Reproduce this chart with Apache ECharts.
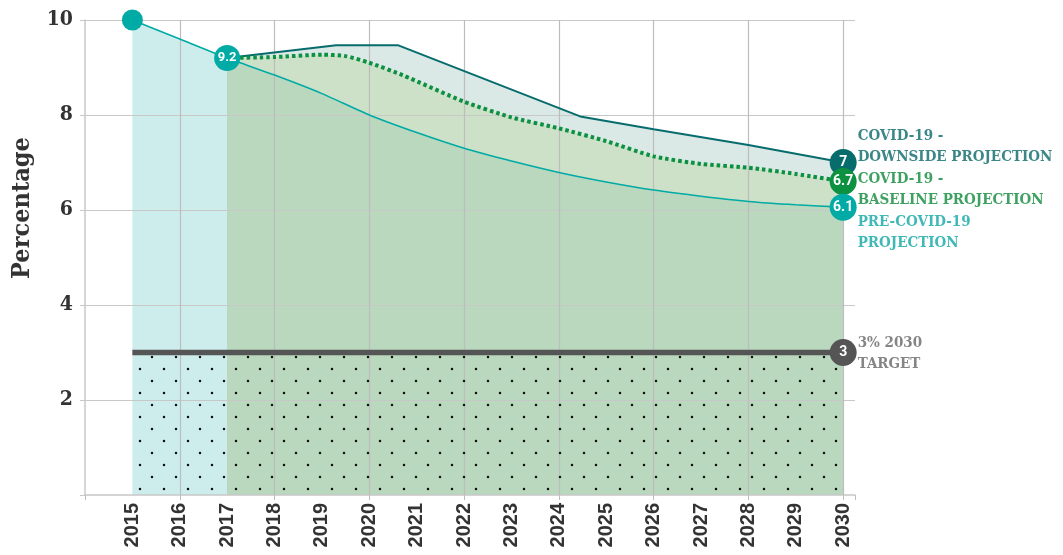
<!DOCTYPE html>
<html>
<head>
<meta charset="utf-8">
<script src="https://cdn.jsdelivr.net/npm/echarts@6/dist/echarts.min.js"></script>
<style>html,body{margin:0;padding:0;background:#fff}#c{width:1063px;height:555px}</style>
</head>
<body>
<div id="c"></div>
<script>
// ---- data ----
const years = [2015,2016,2017,2018,2019,2020,2021,2022,2023,2024,2025,2026,2027,2028,2029,2030];
const yTicks = [2,4,6,8,10];
const preCovid = [10,9.6,9.2,8.84,8.45,8.0,7.63,7.3,7.03,6.79,6.59,6.42,6.29,6.18,6.11,6.06];
const downsideX = [2017,2019.3,2020.6,2024.45,2026,2028,2030];
const downsideY = [9.2,9.47,9.47,7.97,7.7,7.37,7.0];
const baselineX = [2017,2018,2019,2019.5,2020,2020.7,2022,2023,2024,2025,2026,2027,2028,2029,2030];
const baselineY = [9.2,9.22,9.27,9.24,9.1,8.84,8.28,7.95,7.72,7.45,7.13,6.97,6.89,6.76,6.6];
const targetX = [2015,2030];
const targetValue = 3;
const startMarkers = [[2015,10,''],[2017,9.2,'9.2']];
const endLabels = ['7','6.7','6.1','3'];
const seriesNames = ['COVID-19 -\nDOWNSIDE PROJECTION','COVID-19 -\nBASELINE PROJECTION','PRE-COVID-19\nPROJECTION','3% 2030\nTARGET'];

// ---- styles ----
const C = {
  down:'#066c6c', base:'#0b9140', pre:'#00aaa5', target:'#555555',
  downFill:'#dae8e6', baseFill:'#cde0c8', preFill:'#b9d8be', preFillEarly:'#cdeded',
  downText:'#0a6868', baseText:'#0f8a3a', preText:'#10a8a4', targetText:'#666666'
};
const SLAB = '"DejaVu Serif Condensed","DejaVu Serif",serif';

function dotPattern(){
  const cv = document.createElement('canvas');
  cv.width = 24; cv.height = 24;
  const g = cv.getContext('2d');
  g.fillStyle = '#111';
  [[20,9],[8,21]].forEach(p=>{ g.beginPath(); g.arc(p[0],p[1],1.25,0,Math.PI*2); g.fill(); });
  return cv;
}

const zip = (xs, ys) => xs.map((x,i)=>[x, ys[i]]);
const preData = zip(years, preCovid);
const downData = zip(downsideX, downsideY);
const baseData = zip(baselineX, baselineY);
const targetData = targetX.map(x=>[x, targetValue]);
const last = a => a[a.length-1];
const stop = (years[2]-years[0])/(last(years)-years[0]);

const endPoints = [last(downData), last(baseData), last(preData), last(targetData)];
const endColors = [C.down, C.base, C.pre, C.target];
const nameColors = [C.downText, C.baseText, C.preText, C.targetText];
const nameOffsets = [-16, 8, 25, 1];

const chart = echarts.init(document.getElementById('c'), null, {renderer:'canvas'});
const option = {
  animation:false,
  grid:{left:85, right:208, top:20, bottom:60, containLabel:false},
  xAxis:[
    {type:'value', min:2014, max:2030.25, interval:1, z:1,
     axisLine:{show:true, lineStyle:{color:'#c8c8c8', width:1.5}},
     axisTick:{show:false}, splitLine:{show:false},
     axisLabel:{rotate:90, margin:8, color:'#333', fontFamily:'"Liberation Sans",Arial,sans-serif', fontWeight:'bold', fontSize:20,
       formatter:v=> years.includes(v) ? String(v) : ''}},
    {type:'value', min:2014, max:2030.25, interval:2, z:1, position:'bottom',
     axisLine:{show:false}, axisLabel:{show:false},
     axisTick:{show:true, length:5, lineStyle:{color:'#bdbdbd'}},
     splitLine:{show:true, showMinLine:false, showMaxLine:false, lineStyle:{color:'#bdbdbd', width:1.2}}}
  ],
  yAxis:{type:'value', min:0, max:10, interval:2, z:1,
    axisLine:{show:true, lineStyle:{color:'#c8c8c8', width:1.5}},
    axisTick:{show:true, length:5, lineStyle:{color:'#c8c8c8'}},
    splitLine:{show:true, showMinLine:false, lineStyle:{color:'#c8c8c8', width:1.2}},
    axisLabel:{margin:12, color:'#333', fontFamily:SLAB, fontWeight:'bold', fontSize:21,
      formatter:v=> yTicks.includes(v) ? String(v) : ''}},
  graphic:[{type:'text', x:22, y:208, rotation:Math.PI/2,
    style:{text:'Percentage', fill:'#333', font:'bold 25px '+SLAB, textAlign:'center', textVerticalAlign:'middle'}}],
  series:[
    {type:'line', data:downData, z:0, symbol:'none', lineStyle:{width:0}, areaStyle:{color:C.downFill, opacity:1}},
    {type:'line', data:baseData, z:0, symbol:'none', lineStyle:{width:0}, areaStyle:{color:C.baseFill, opacity:1}},
    {type:'line', data:preData, z:0, symbol:'none', lineStyle:{width:0},
     areaStyle:{opacity:1, color:new echarts.graphic.LinearGradient(0,0,1,0,[
       {offset:0,color:C.preFillEarly},{offset:stop,color:C.preFillEarly},{offset:stop,color:C.preFill},{offset:1,color:C.preFill}])}},
    {type:'line', data:targetData, z:2, symbol:'none', lineStyle:{width:5.5, color:C.target},
     areaStyle:{opacity:1, color:{image:dotPattern(), repeat:'repeat'}}},
    {type:'line', data:downData, z:3, symbol:'none', lineStyle:{width:2, color:C.down}},
    {type:'line', data:baseData, z:3, symbol:'none', smooth:0.2, lineStyle:{width:4, color:C.base, type:[3.5,3]}},
    {type:'line', data:preData, z:3, symbol:'none', smooth:0.2, lineStyle:{width:1.6, color:C.pre}},
    {type:'scatter', z:4, symbol:'circle',
     data:startMarkers.map((m,i)=>({value:[m[0],m[1]], symbolSize: m[2]? 26 : 21, label:{show:!!m[2], formatter:m[2]}})),
     itemStyle:{color:C.pre, opacity:1},
     label:{position:'inside', color:'#fff', fontFamily:'Roboto,sans-serif', fontWeight:'bold', fontSize:13}},
    {type:'scatter', z:4, symbol:'circle', symbolSize:27,
     data:endPoints.map((p,i)=>({value:p, itemStyle:{color:endColors[i]}, label:{formatter:endLabels[i]}})),
     itemStyle:{opacity:1},
     label:{show:true, position:'inside', color:'#fff', fontFamily:'Roboto,sans-serif', fontWeight:'bold', fontSize:14}},
    {type:'scatter', z:4, symbol:'circle', symbolSize:1,
     data:endPoints.map((p,i)=>({value:p, label:{formatter:seriesNames[i], color:nameColors[i], offset:[0,nameOffsets[i]]}})),
     itemStyle:{color:'rgba(0,0,0,0)'},
     label:{show:true, position:'right', distance:14, align:'left', verticalAlign:'middle',
       fontFamily:SLAB, fontWeight:'bold', fontSize:15, lineHeight:21}}
  ]
};
chart.setOption(option);
</script>
</body>
</html>
